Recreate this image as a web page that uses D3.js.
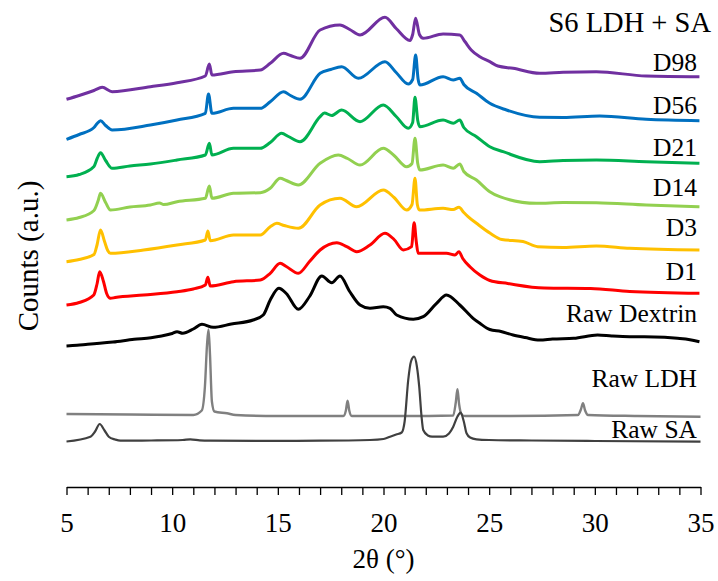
<!DOCTYPE html>
<html>
<head>
<meta charset="utf-8">
<script src="https://cdn.jsdelivr.net/npm/d3@7"></script>
<style>
  html, body { margin: 0; padding: 0; background: #fff; }
  svg { display: block; }
  text { font-family: "Liberation Serif", "Times New Roman", serif; fill: #000; }
</style>
</head>
<body>
<svg id="chart" width="718" height="581"></svg>
<script>
// XRD patterns (2θ in degrees, intensity in a.u. above each pattern's own baseline)
const rawSA = [[5.0,0],[6.13,4.8],[6.35,10],[6.57,17.5],[6.8,11],[7.0,4.8],[7.3,2],[7.55,0.8],[9.0,1],[10.5,1.5],[10.86,2.2],[11.3,1.2],[11.8,0.8],[14,0.6],[17,0.8],[19.36,1.5],[20.0,2.5],[20.31,4.8],[20.6,7],[20.86,9],[21.0,20],[21.17,61.5],[21.3,80],[21.45,84.8],[21.58,75],[21.69,54.8],[21.8,25],[21.88,11.5],[22.1,6],[22.3,4.8],[22.51,4.8],[22.82,4.8],[23.1,8],[23.3,14.8],[23.5,25],[23.65,28.8],[23.8,20],[23.93,8.2],[24.1,4],[24.4,2.2],[25.0,1.5],[27,1],[30,0.5],[35,-0.2]];

const rawLDH = [[5.0,2.5],[8,2],[11.0,1.5],[11.4,6],[11.55,30],[11.65,72],[11.72,87],[11.79,62],[11.88,15],[12.0,5],[12.59,3.2],[13,1.5],[15,0.5],[18.1,0.5],[18.22,6],[18.3,15.8],[18.38,6],[18.5,0.5],[21,0.5],[23.3,1],[23.42,14],[23.5,27.2],[23.58,12],[23.7,2],[23.85,0.5],[26,0.5],[29.2,1.5],[29.34,7],[29.44,13.2],[29.54,6],[29.68,1.5],[32,0.5],[35,-0.2]];

const rawDextrin = [[5.0,-4.5],[5.5,-3.8],[6.0,-2.8],[6.57,-1.8],[7.2,-0.5],[8.2,2.2],[9.0,3.8],[9.5,5.5],[10.0,8],[10.23,9.8],[10.5,8.2],[11.0,12.5],[11.41,17.2],[11.94,14.2],[12.8,17.5],[13.83,21.5],[14.31,26.5],[14.64,41.5],[15.05,53.2],[15.4,48],[15.97,32.2],[16.5,45],[17.08,65.5],[17.55,58.8],[17.94,65.5],[18.4,50],[18.89,36.5],[19.36,33.2],[19.99,34.8],[20.31,33.2],[20.62,26.5],[21.41,22.2],[21.88,24.8],[22.51,38.2],[22.98,46.5],[23.61,36.5],[24.24,23.2],[24.56,18.2],[25.03,12],[25.56,10],[26.13,6.5],[26.7,4],[27.39,1.5],[28.0,2.5],[29.0,3.2],[30.13,6.5],[30.8,5.5],[31.65,4.8],[32.34,4.8],[33.3,4.2],[33.91,3.2],[34.5,1.8],[34.95,-0.2]];

const day1 = [[5.0,-13.5],[5.6,-11],[6.29,-3.5],[6.45,8],[6.57,19.8],[6.75,10],[6.9,-2],[7.08,-6.8],[7.3,-6],[8.65,-3.5],[10.23,-0.2],[11.0,2.5],[11.57,6.5],[11.69,14.2],[11.8,5.5],[12.9,9.8],[14.17,11.5],[14.64,18.2],[15.11,28.2],[15.4,25],[15.97,18.2],[16.5,30],[17.0,41.5],[17.79,48.8],[18.26,44.8],[18.73,39.8],[19.36,46.5],[20.07,58.2],[20.5,52],[20.94,41.5],[21.33,44.8],[21.45,68.8],[21.55,50],[21.64,38.2],[22.51,38.2],[22.98,38.2],[23.38,36.5],[23.57,39.8],[23.75,33],[24.09,24.8],[24.56,16.5],[25.03,11],[25.88,8],[27.6,3.5],[29.8,3],[31.65,0],[34.95,-1.8]];

const day3 = [[5.0,-12.2],[5.6,-10],[6.3,-5],[6.45,5],[6.61,19.5],[6.8,8],[6.95,-1],[7.08,-3.8],[8.65,-0.5],[10.23,4.5],[11.57,9.5],[11.69,18.5],[11.8,8.8],[12.9,14.5],[14.17,14.5],[14.64,22.8],[14.95,26.2],[15.3,24],[15.97,21.2],[17.0,44.5],[17.94,51.2],[18.73,42.8],[19.99,59.5],[20.5,52],[21.1,39.5],[21.35,45],[21.49,71.2],[21.6,45],[21.7,39.5],[22.82,41.2],[23.3,40],[23.57,42.2],[23.8,37],[24.0,32.8],[24.4,26.2],[25.05,16.2],[25.6,10],[26.6,8],[27.3,2.8],[28.5,2],[30.07,3.5],[31.65,1.2],[34.95,-0.5]];

const day14 = [[5.0,-14.5],[5.6,-12],[6.3,-5],[6.5,5],[6.61,12.2],[6.85,3],[7.08,-4.5],[8.0,-1.5],[8.97,0.5],[9.4,2.5],[9.6,1],[10.23,3.8],[11.57,7.2],[11.76,19.5],[11.88,7.2],[12.9,12.2],[14.17,12.8],[14.64,17.2],[15.11,27.2],[15.4,25],[15.97,20.5],[17.0,42.2],[17.86,50.5],[18.3,47],[18.89,40.5],[19.99,57.2],[20.5,50],[21.1,38.8],[21.35,42],[21.49,67.2],[21.62,42],[21.72,35.5],[22.82,40.5],[23.3,37.2],[23.61,41.5],[23.8,34],[24.4,25.5],[25.03,13.8],[25.5,8.8],[27.24,2.2],[28.5,3],[30.07,2.8],[32.43,0.5],[34.95,-1.2]];

const day21 = [[5.0,-14.2],[5.6,-12],[6.3,-4],[6.45,4],[6.61,9.8],[6.85,2],[7.16,-5.8],[8.0,-3.5],[8.97,-1.5],[10.23,2.5],[11.57,7.5],[11.76,19.2],[11.88,7.5],[12.9,14.2],[14.17,14.2],[14.64,20],[15.18,29.2],[15.5,26],[16.05,20.8],[17.0,45.8],[17.2,49.5],[17.55,47],[18.02,52.5],[18.89,40.8],[19.99,57.5],[20.6,46],[21.17,34.2],[21.38,40],[21.49,65.2],[21.62,42],[21.72,35.8],[22.82,42.5],[23.3,39.2],[23.61,42.5],[23.8,35],[24.4,25.8],[25.03,15.8],[25.66,10.8],[27.39,0.8],[28.5,2],[30.07,2.5],[32.43,0.8],[34.95,-0.8]];

const day56 = [[5.0,-19.8],[5.6,-15],[6.3,-8],[6.45,-4],[6.61,-1.2],[6.85,-6],[7.16,-10.5],[8.97,-5.5],[10.23,-0.5],[11.57,6.2],[11.72,25.5],[11.88,6.2],[12.9,11.2],[14.17,11.2],[14.64,17.8],[15.27,27.8],[15.6,24],[16.05,20.2],[17.0,46.2],[17.5,50],[18.02,52.8],[18.81,41.2],[20.07,57.8],[20.6,47],[21.17,35.5],[21.38,40],[21.52,64.5],[21.64,40],[21.72,34.5],[22.82,42.8],[23.3,39.5],[23.61,41.2],[23.8,35],[24.4,26.2],[25.03,16.2],[25.82,9.5],[27.39,2.2],[28.5,2],[30.23,3.5],[32.43,0.2],[34.95,-1.2]];

const day98 = [[5.0,-22.8],[5.6,-19],[6.3,-14],[6.69,-10.8],[7.16,-15.2],[8.97,-10.2],[10.23,-6.2],[11.57,0.5],[11.76,12.5],[11.88,1.5],[12.9,4.8],[14.17,6.5],[14.64,13.2],[15.27,23.2],[15.6,21],[16.05,18.2],[17.0,46.5],[17.94,51.5],[18.4,47],[18.89,41.5],[20.07,59.2],[20.6,48],[21.25,36],[21.38,42],[21.52,58.2],[21.7,42],[21.88,38.2],[22.82,42.5],[23.61,41.5],[23.85,35],[24.15,26.5],[24.56,19.8],[25.03,14.8],[25.41,10.5],[26.13,8.2],[27.39,3.2],[28.5,4.2],[30.07,4.8],[32.43,0.5],[34.95,-0.2]];

// Stacking order (bottom to top), vertical offsets, labels and colours
const seriesNames = ["Raw LDH", "Raw SA", "Raw Dextrin", "D1", "D3", "D14", "D21", "D56", "D98"];
const seriesData = [rawLDH, rawSA, rawDextrin, day1, day3, day14, day21, day56, day98];
const seriesOffsets = [25, 0, 100, 150, 192, 236, 279, 322, 365];
const seriesColors = ["#808080", "#404040", "#000000", "#FF0000", "#FFC000", "#92D050", "#00B050", "#0070C0", "#7030A0"];
const seriesWidths = [2.4, 2.2, 3, 3, 3, 3, 3, 3, 3];

// Label baselines (in a.u. on the stacked intensity scale)
const labelLevels = [54.8, 3.2, 119.8, 161.5, 205.5, 245.5, 286, 327.5, 370.8];
const titleText = "S6 LDH + SA";
const titleLevel = 409.8;

const xTicks = [5,6,7,8,9,10,11,12,13,14,15,16,17,18,19,20,21,22,23,24,25,26,27,28,29,30,31,32,33,34,35];
const xTickLabels = [5, 10, 15, 20, 25, 30, 35];
const xTitle = "2θ (°)";
const yTitle = "Counts (a.u.)";

const serif = "'Liberation Serif', 'Times New Roman', serif";
const svg = d3.select("#chart");

const x = d3.scaleLinear().domain([5, 35]).range([66.5, 700.5]);
const y = d3.scaleLinear().domain([0, 430]).range([441.5, 11.5]);

const line = d3.line()
  .x(d => x(d[0]))
  .y(d => y(d[1]))
  .curve(d3.curveMonotoneX);

seriesData.forEach((data, i) => {
  const off = seriesOffsets[i];
  svg.append("path")
    .datum(data.map(d => [d[0], d[1] + off]))
    .attr("fill", "none")
    .attr("stroke", seriesColors[i])
    .attr("stroke-width", seriesWidths[i])
    .attr("stroke-linejoin", "round")
    .attr("d", line);
});

// Series labels, right aligned
svg.append("g").selectAll("text")
  .data(seriesNames)
  .join("text")
  .attr("x", 697)
  .attr("y", (d, i) => y(labelLevels[i]))
  .attr("text-anchor", "end")
  .style("font-family", serif)
  .style("font-size", "25.5px")
  .text(d => d);

svg.append("text")
  .attr("x", 711)
  .attr("y", y(titleLevel))
  .attr("text-anchor", "end")
  .style("font-family", serif)
  .style("font-size", "28.5px")
  .text(titleText);

// x axis with a tick every degree, labelled every 5°
const axis = d3.axisBottom(x)
  .tickValues(xTicks)
  .tickSize(8)
  .tickSizeOuter(0)
  .tickPadding(18)
  .tickFormat(d => xTickLabels.includes(d) ? d : "");

const gx = svg.append("g")
  .attr("transform", "translate(0,487)")
  .call(axis)
  .attr("font-family", serif)
  .attr("font-size", 27);
gx.select(".domain").attr("stroke", "#000").attr("stroke-width", 1.3);
gx.selectAll(".tick line").attr("stroke", "#000").attr("stroke-width", 1.3);
gx.selectAll(".tick text")
  .style("font-family", serif)
  .style("font-size", "27px")
  .attr("fill", "#000");

svg.append("text")
  .attr("x", (x(5) + x(35)) / 2)
  .attr("y", 568)
  .attr("text-anchor", "middle")
  .style("font-family", serif)
  .style("font-size", "27px")
  .text(xTitle);

svg.append("text")
  .attr("transform", "translate(38,256) rotate(-90)")
  .attr("text-anchor", "middle")
  .style("font-family", serif)
  .style("font-size", "29px")
  .text(yTitle);
</script>
</body>
</html>
